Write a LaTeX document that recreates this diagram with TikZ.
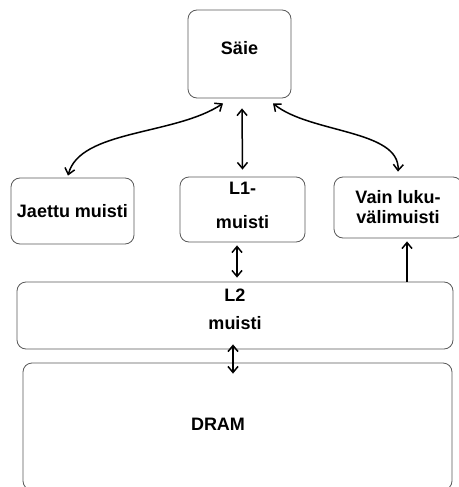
\documentclass[tikz,border=0pt]{standalone}
\usepackage{fontspec}
\setmainfont{Liberation Sans}
\usetikzlibrary{arrows.meta, positioning, calc}

\begin{document}
\begin{tikzpicture}[
    x=1pt, y=-1pt,
    % Node styles
    box/.style={
        rectangle, rounded corners=9pt,
        draw=black!65, line width=0.8pt,
        inner sep=0pt, align=center,
        font=\fontsize{18}{20}\selectfont\bfseries,
    },
    word/.style={
        inner sep=0pt,
        font=\fontsize{18}{20}\selectfont\bfseries,
    },
    link/.style={
        draw=black, line width=1.5pt,
        {Straight Barb[length=6pt,width=10pt]}-{Straight Barb[length=6pt,width=10pt]},
    },
    uplink/.style={
        draw=black, line width=1.5pt,
        -{Straight Barb[length=6pt,width=10pt]},
    },
]

\useasboundingbox (0,0) rectangle (458,487);

% === Thread ===
\node[box, minimum width=103pt, minimum height=88pt] (saie) at (239.5,54) {S\"aie\\[-8pt]\mbox{}};

% === Level 1 memories ===
\node[box, minimum width=123pt, minimum height=66pt] (jaettu) at (72.5,211) {Jaettu muisti};
\node[box, minimum width=125pt, minimum height=65pt] (l1)     at (242.5,209.5) {L1-\\[14pt]muisti\\[-11pt]\mbox{}};
\node[box, minimum width=128pt, minimum height=61pt] (vain)   at (398,207.5) {Vain luku-\\v\"alimuisti};

% === L2 and DRAM ===
\node[box, minimum width=436pt, minimum height=67pt] (l2)   at (235,315.5) {L2\\[8pt]muisti\\[-7pt]\mbox{}};
\node[box, minimum width=429pt, minimum height=127pt] (dram) at (237.5,426.5) {};
\node[word] (dramtext) at (218,424) {DRAM};

% === Edges: thread to level 1 ===
\draw[link] ([xshift=-16.5pt,yshift=-5pt]saie.south)
    .. controls +(-48,32) and +(12,-46) .. ([xshift=-4.5pt,yshift=2pt]jaettu.north);
\draw[link] ([xshift=2.5pt,yshift=-10pt]saie.south) -- ([yshift=7pt]l1.north);
\draw[link] ([xshift=33.5pt,yshift=-5pt]saie.south)
    .. controls +(37,30) and +(2,-42) .. ([yshift=5pt]vain.north);

% === Edges: between levels ===
\draw[link] ([xshift=-5.5pt,yshift=-3pt]l1.south) -- ([xshift=2pt,yshift=4pt]l2.north);
\draw[uplink] ([xshift=9pt]vain.south |- l2.north) -- ([xshift=9pt,yshift=-3pt]vain.south);
\draw[link] ([xshift=-2pt,yshift=5pt]l2.south) -- ([xshift=-4.5pt,yshift=-11pt]dram.north);

\end{tikzpicture}
\end{document}
